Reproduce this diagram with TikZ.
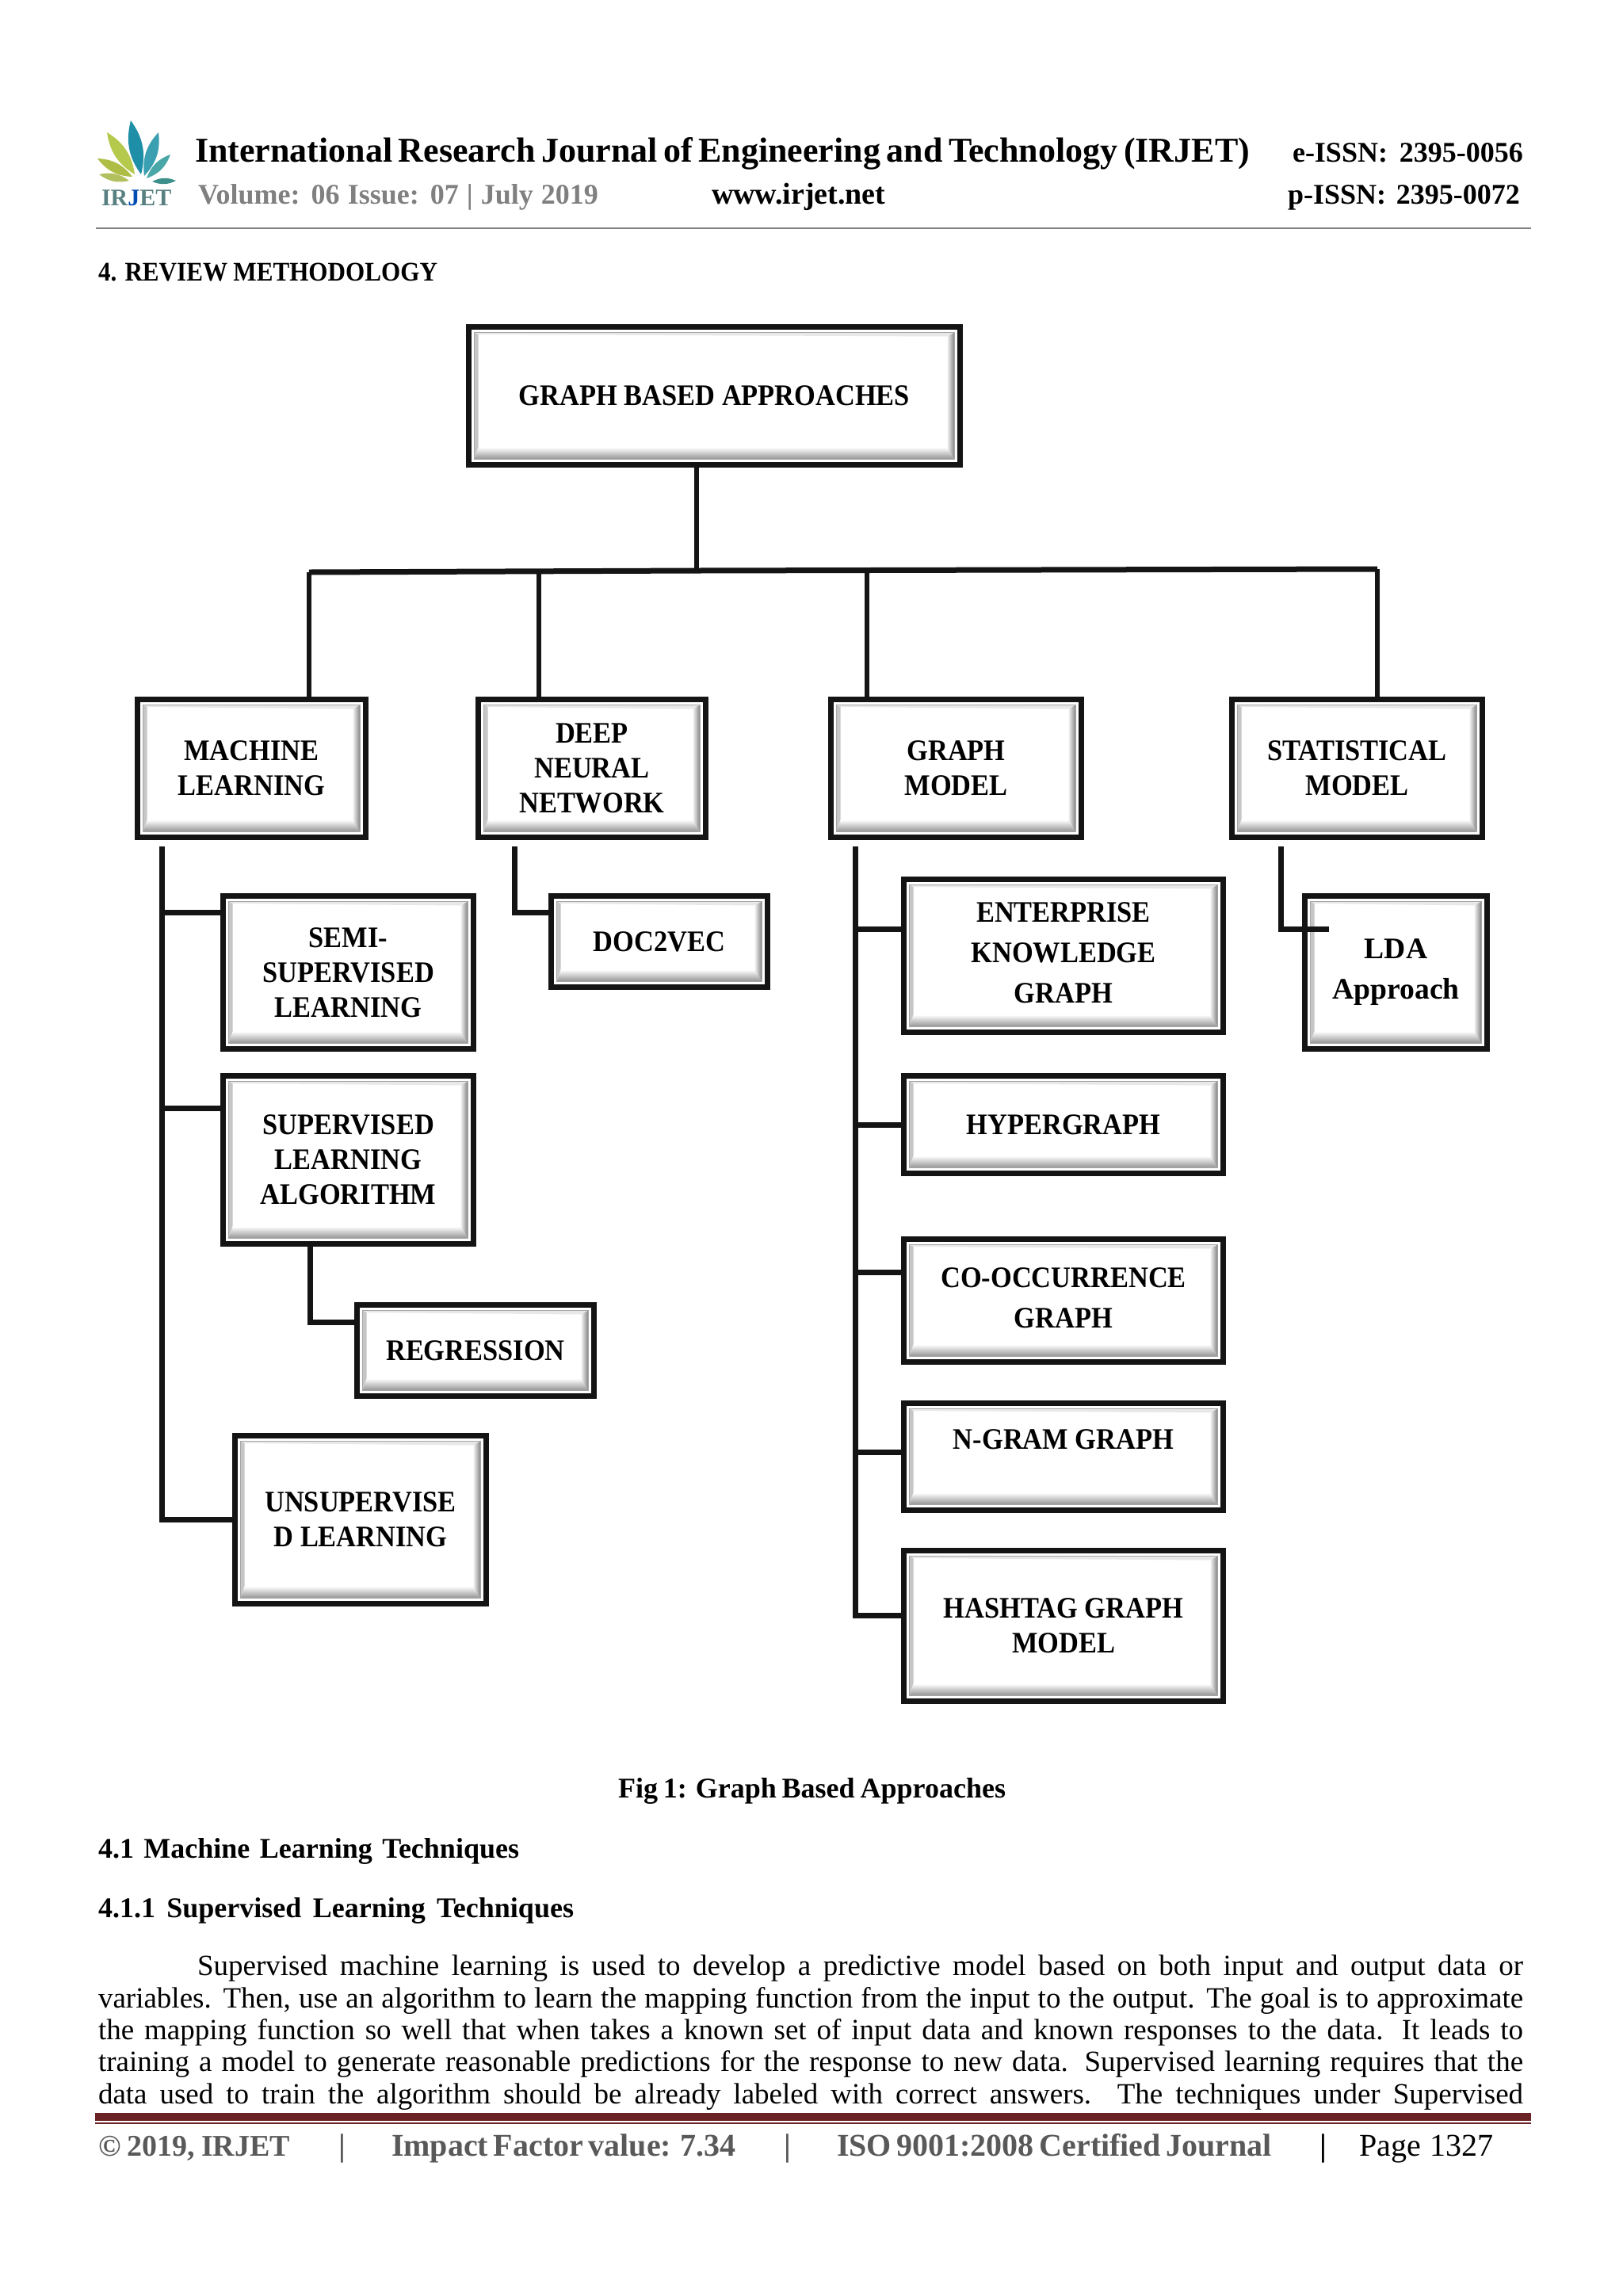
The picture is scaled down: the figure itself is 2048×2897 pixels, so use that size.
\documentclass[tikz,border=0pt]{standalone}
\usepackage{fontspec}
\setmainfont{Liberation Serif}
\newfontfamily\capfont[FakeStretch=0.915]{Liberation Serif}
\definecolor{boxblack}{HTML}{141414}
\definecolor{footgray}{HTML}{595959}
\definecolor{volgray}{HTML}{808080}
\definecolor{maroon}{HTML}{6B2225}
\tikzset{
    bevbox/.style 2 args={draw=boxblack,line width=3.5pt,fill=white,outer sep=0pt,inner sep=0pt,
        align=center,text=black,font=\fontsize{18.8}{22}\selectfont\capfont\bfseries,
        minimum width=(#1-7)*0.5pt,minimum height=(#2-7)*0.5pt,
        path picture={
            \coordinate (fnw) at ([shift={(3.5pt,-3.5pt)}]path picture bounding box.north west);
            \coordinate (fne) at ([shift={(-3.5pt,-3.5pt)}]path picture bounding box.north east);
            \coordinate (fse) at ([shift={(-3.5pt,3.5pt)}]path picture bounding box.south east);
            \coordinate (fsw) at ([shift={(3.5pt,3.5pt)}]path picture bounding box.south west);
            \coordinate (inw) at ([shift={(6pt,-4.75pt)}]path picture bounding box.north west);
            \coordinate (ine) at ([shift={(-8.5pt,-6pt)}]path picture bounding box.north east);
            \coordinate (ise) at ([shift={(-8.5pt,11pt)}]path picture bounding box.south east);
            \coordinate (isw) at ([shift={(6pt,11pt)}]path picture bounding box.south west);
            \fill[gray!18] (fnw)--(fne)--(ine)--(inw)--cycle;
            \fill[gray!45] (fnw)--(inw)--(isw)--(fsw)--cycle;
            \shade[left color=white,right color=gray] (ine)--(fne)--(fse)--(ise)--cycle;
            \shade[top color=white,bottom color=gray!85] (isw)--(ise)--(fse)--(fsw)--cycle;
            \draw[gray!70,line width=0.6pt] (fnw)--(fne)--(fse)--(fsw)--cycle;
        }},
    link/.style={draw=boxblack,line width=3.5pt},
    buslink/.style={draw=boxblack,line width=2.75pt},
    pagetext/.style={anchor=base west,inner sep=0pt,outer sep=0pt,text=black,font=\fontsize{18.5}{20}\selectfont},
    pagebold/.style={pagetext,font=\fontsize{18}{20}\selectfont\bfseries},
    foottext/.style={pagetext,text=footgray,font=\fontsize{20}{22}\selectfont\bfseries},
    logoleaf/.style={line width=0pt},
}
\begin{document}
\begin{tikzpicture}[x=0.5pt,y=-0.5pt]
    \useasboundingbox (0,0) rectangle (2048,2897);

    \foreach \tipx/\tipy/\basex/\basey/\leafcol in {165/152/178/220/1F8FA8,200/167/182/222/3A9FB0,215/195/185/225/4AA7A8,192/229/222/228/3D8F8A,135/167/170/220/B5C94C,123/200/167/223/AEBD45,125/220/163/228/B3C060}{
        \definecolor{leafcol}{HTML}{\leafcol}
        \fill[leafcol,logoleaf] (\tipx,\tipy) to[bend left=25] (\basex,\basey) to[bend left=25] (\tipx,\tipy) -- cycle;
    }
    \node[pagebold,text=gray!70!teal,font=\fontsize{15}{16}\selectfont\bfseries] (logotext) at (128,259) {IR\textcolor{teal!60!blue}{J}ET};

    \node[pagebold,font=\fontsize{22}{24}\selectfont\bfseries] (title) at (246,204) {\makebox[665.5pt][s]{International Research Journal of Engineering and Technology (IRJET)}};
    \node[pagebold] (eissn) at (1631,204) {\makebox[145.5pt][s]{e-ISSN: 2395-0056}};
    \node[pagebold,text=volgray] (volume) at (250,257) {\makebox[252.5pt][s]{Volume: 06 Issue: 07 | July 2019}};
    \node[pagebold,font=\fontsize{19}{20}\selectfont\bfseries] (web) at (898,257) {www.irjet.net};
    \node[pagebold] (pissn) at (1625,257) {\makebox[146.5pt][s]{p-ISSN: 2395-0072}};
    \draw[gray,line width=1.2pt] (121,288) -- (1932,288);
    \node[pagebold,font=\fontsize{17}{19}\selectfont\capfont\bfseries] (sect) at (124,354) {\makebox[214pt][s]{4. REVIEW METHODOLOGY}};

    \node[bevbox={627}{181}] (root) at (901.5,499.5) {GRAPH BASED APPROACHES};
    \node[bevbox={295}{181}] (ml) at (317.5,969.5) {MACHINE\\LEARNING};
    \node[bevbox={294}{181}] (dnn) at (747,969.5) {DEEP\\NEURAL\\NETWORK};
    \node[bevbox={323}{181}] (gm) at (1206.5,969.5) {GRAPH\\MODEL};
    \node[bevbox={323}{181}] (sm) at (1712.5,969.5) {STATISTICAL\\MODEL};

    \node[bevbox={323}{200}] (semi) at (439.5,1227) {SEMI-\\SUPERVISED\\LEARNING};
    \node[bevbox={323}{219}] (sla) at (439.5,1463.5) {SUPERVISED\\LEARNING\\ALGORITHM};
    \node[bevbox={306}{122}] (reg) at (600,1704) {REGRESSION};
    \node[bevbox={324}{219}] (unsup) at (455,1917.5) {UNSUPERVISE\\D LEARNING};
    \node[bevbox={280}{122}] (doc) at (832,1188) {DOC2VEC};

    \node[bevbox={410}{200}] (ekg) at (1342,1206) {ENTERPRISE\\[3.5pt]KNOWLEDGE\\[3.5pt]GRAPH\rule[-3.5pt]{0pt}{0pt}};
    \node[bevbox={410}{130}] (hyper) at (1342,1419) {HYPERGRAPH};
    \node[bevbox={410}{162}] (cooc) at (1342,1641) {CO-OCCURRENCE\\[3.5pt]GRAPH\rule[-3pt]{0pt}{0pt}};
    \node[bevbox={410}{142}] (ngram) at (1342,1838) {N-GRAM GRAPH\\\phantom{X}};
    \node[bevbox={410}{197}] (hash) at (1342,2051.5) {HASHTAG GRAPH\\MODEL};
    \node[bevbox={237}{200},font=\fontsize{18.8}{25.5}\selectfont\bfseries] (lda) at (1761.5,1227) {LDA\\Approach};

    \coordinate (busj) at (879,720);
    \coordinate (busl) at (390,722);
    \coordinate (busa) at (680,721);
    \coordinate (busb) at (1094,719.5);
    \coordinate (busr) at (1738,718);
    \coordinate (mltop) at (204,1068);
    \coordinate (dnntop) at (649,1068);
    \coordinate (gmtop) at (1079,1068);
    \coordinate (smtop) at (1616,1068);

    \draw[buslink] (root.south -| busj) -- (busj);
    \draw[link] (busl) -- (busj) -- (busr);
    \draw[buslink] (busl) -- (busl |- ml.north);
    \draw[buslink] (busa) -- (busa |- dnn.north);
    \draw[buslink] (busb) -- (busb |- gm.north);
    \draw[buslink] (busr) -- (busr |- sm.north);

    \draw[link] (mltop) |- (unsup.west);
    \draw[link] (mltop) |- ([yshift=-10.25pt]semi.north west);
    \draw[link] (mltop) |- ([yshift=-20.25pt]sla.north west);
    \draw[link] ([xshift=-24.25pt]sla.south) |- ([yshift=-10.75pt]reg.north west);
    \draw[link] (dnntop) |- ([yshift=-10.25pt]doc.north west);

    \draw[link] (gmtop) |- ([yshift=-40.75pt]hash.north west);
    \draw[link] (gmtop) |- ([yshift=-31.25pt]ekg.north west);
    \draw[link] (gmtop) |- (hyper.west);
    \draw[link] (gmtop) |- ([yshift=-20.75pt]cooc.north west);
    \draw[link] (gmtop) |- ([yshift=-30.75pt]ngram.north west);
    \draw[link] (smtop) |- ([shift={(15.25pt,-20.75pt)}]lda.north west);

    \node[pagebold] (caption) at (780,2268) {\makebox[244.5pt][s]{Fig 1: Graph Based Approaches}};
    \node[pagebold] (subone) at (124,2344) {\makebox[265.5pt][s]{4.1 Machine Learning Techniques}};
    \node[pagebold] (subtwo) at (124,2419) {\makebox[300pt][s]{4.1.1 Supervised Learning Techniques}};

    \node[pagetext] (lineone) at (249,2492) {\makebox[836.5pt][s]{Supervised machine learning is used to develop a predictive model based on both input and output data or}};
    \node[pagetext] (linetwo) at (124,2533) {\makebox[899pt][s]{variables. Then, use an algorithm to learn the mapping function from the input to the output. The goal is to approximate}};
    \node[pagetext] (linethree) at (124,2573) {\makebox[899pt][s]{the mapping function so well that when takes a known set of input data and known responses to the data. It leads to}};
    \node[pagetext] (linefour) at (124,2613) {\makebox[899pt][s]{training a model to generate reasonable predictions for the response to new data. Supervised learning requires that the}};
    \node[pagetext] (linefive) at (124,2654) {\makebox[899pt][s]{data used to train the algorithm should be already labeled with correct answers. The techniques under Supervised}};

    \draw[maroon,line width=5pt] (120,2671) -- (1932,2671);
    \draw[maroon,line width=1pt] (120,2679) -- (1932,2679);

    \node[foottext,font=\fontsize{19}{22}\selectfont\bfseries] (copy) at (124,2720) {\makebox[121pt][s]{© 2019, IRJET}};
    \node[foottext] (barone) at (427,2720) {|};
    \node[foottext] (impact) at (494,2720) {\makebox[217pt][s]{Impact Factor value: 7.34}};
    \node[foottext] (bartwo) at (989,2720) {|};
    \node[foottext] (iso) at (1056,2720) {\makebox[274.5pt][s]{ISO 9001:2008 Certified Journal}};
    \node[foottext,text=black] (barthree) at (1665,2720) {|};
    \node[foottext,text=black,font=\fontsize{20}{22}\selectfont] (page) at (1715,2720) {\makebox[84.5pt][s]{Page 1327}};
\end{tikzpicture}
\end{document}
